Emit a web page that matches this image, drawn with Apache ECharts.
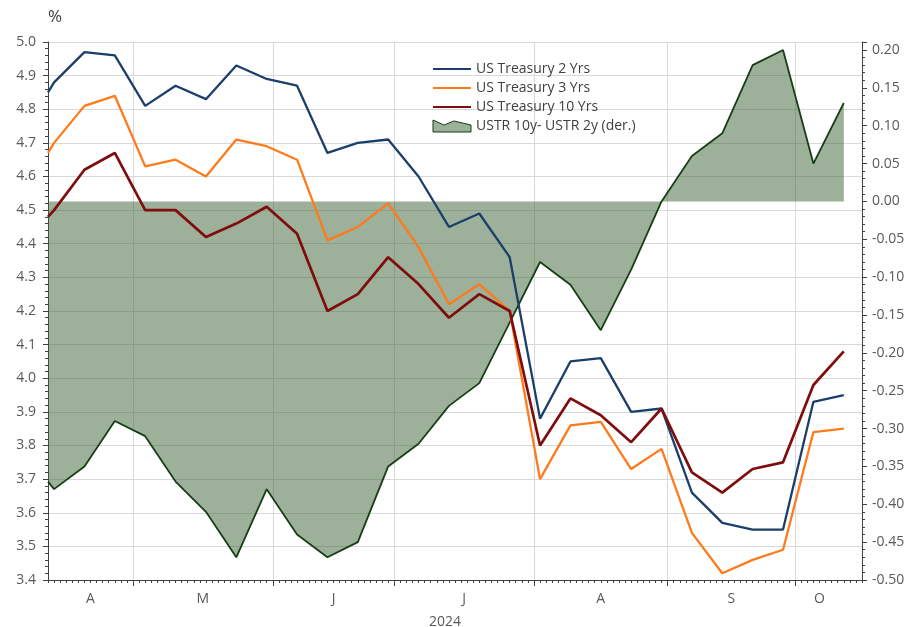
<!DOCTYPE html>
<html>
<head>
<meta charset="utf-8">
<script src="https://cdn.jsdelivr.net/npm/echarts@6/dist/echarts.min.js"></script>
<style>
  html, body { margin: 0; padding: 0; background: #fff; }
  #main { width: 907px; height: 627px; }
</style>
</head>
<body>
<div id="main"></div>
<script type="text/javascript">
    // weekly observation dates (first one is the partial start of the window)
    var obsDates = [
        '2024-04-11', '2024-04-12', '2024-04-19', '2024-04-26', '2024-05-03', '2024-05-10',
        '2024-05-17', '2024-05-24', '2024-05-31', '2024-06-07', '2024-06-14', '2024-06-21',
        '2024-06-28', '2024-07-05', '2024-07-12', '2024-07-19', '2024-07-26', '2024-08-02',
        '2024-08-09', '2024-08-16', '2024-08-23', '2024-08-30', '2024-09-06', '2024-09-13',
        '2024-09-20', '2024-09-27', '2024-10-04', '2024-10-11'
    ];
    var ust2y = [4.85, 4.88, 4.97, 4.96, 4.81, 4.87, 4.83, 4.93, 4.89, 4.87, 4.67, 4.70, 4.71, 4.60,
        4.45, 4.49, 4.36, 3.88, 4.05, 4.06, 3.90, 3.91, 3.66, 3.57, 3.55, 3.55, 3.93, 3.95];
    var ust3y = [4.67, 4.70, 4.81, 4.84, 4.63, 4.65, 4.60, 4.71, 4.69, 4.65, 4.41, 4.45, 4.52, 4.39,
        4.22, 4.28, 4.20, 3.70, 3.86, 3.87, 3.73, 3.79, 3.54, 3.42, 3.46, 3.49, 3.84, 3.85];
    var ust10y = [4.48, 4.50, 4.62, 4.67, 4.50, 4.50, 4.42, 4.46, 4.51, 4.43, 4.20, 4.25, 4.36, 4.28,
        4.18, 4.25, 4.20, 3.80, 3.94, 3.89, 3.81, 3.91, 3.72, 3.66, 3.73, 3.75, 3.98, 4.08];
    var spread = [-0.37, -0.38, -0.35, -0.29, -0.31, -0.37, -0.41, -0.47, -0.38, -0.44, -0.47, -0.45,
        -0.35, -0.32, -0.27, -0.24, -0.16, -0.08, -0.11, -0.17, -0.09, 0.00, 0.06, 0.09, 0.18, 0.20,
        0.05, 0.13];
    var monthLetters = ['J', 'F', 'M', 'A', 'M', 'J', 'J', 'A', 'S', 'O', 'N', 'D'];
    var axisStart = '2024-04-11', axisEnd = '2024-10-16';

    // business-day categories
    var days = [];
    var d = new Date(axisStart + 'T00:00:00Z');
    var end = new Date(axisEnd + 'T00:00:00Z');
    while (d <= end) {
        var wd = d.getUTCDay();
        if (wd != 0 && wd != 6) days.push(d.toISOString().slice(0, 10));
        d.setUTCDate(d.getUTCDate() + 1);
    }
    // month boundaries and label positions
    var monthStarts = [];
    for (var i = 1; i < days.length; i++) {
        if (days[i].slice(5, 7) != days[i - 1].slice(5, 7)) monthStarts.push(i);
    }
    var lastIdx = days.indexOf(obsDates[obsDates.length - 1]);
    var bounds = [0].concat(monthStarts).concat([lastIdx]);
    var monthMids = [], monthNames = [];
    for (var j = 0; j < bounds.length - 1; j++) {
        monthMids.push((bounds[j] + bounds[j + 1]) / 2);
        monthNames.push(monthLetters[parseInt(days[bounds[j]].slice(5, 7), 10) - 1]);
    }
    function pairs(vals) {
        return vals.map(function (v, k) { return [obsDates[k], v]; });
    }
    function isMonthStart(idx) { return monthStarts.indexOf(idx) >= 0; }

    var font = '"Open Sans", "Noto Sans", sans-serif';
    var labelColor = '#595959';
    var axisColor = '#404040';
    var gridColor = '#d9d9d9';
    var fillColor = 'rgba(58, 98, 54, 0.5)';
    var hideDot = { opacity: 0 };

    var myChart = echarts.init(document.getElementById('main'), null, { renderer: 'canvas' });
    var option = {
        animation: false,
        textStyle: { fontFamily: font },
        grid: { left: 48, right: 45, top: 42, bottom: 47, outerBoundsMode: 'none' },
        legend: {
            orient: 'vertical',
            left: 432,
            top: 62,
            padding: 0,
            itemWidth: 38,
            itemHeight: 14,
            itemGap: 5,
            textStyle: { fontSize: 14, color: axisColor, fontFamily: font },
            data: [
                { name: 'US Treasury 2 Yrs', itemStyle: hideDot },
                { name: 'US Treasury 3 Yrs', itemStyle: hideDot },
                { name: 'US Treasury 10 Yrs', itemStyle: hideDot },
                {
                    name: 'USTR 10y- USTR 2y (der.)',
                    icon: 'path://M0,0 L11,5 L21,1 L38,5 L38,12 L0,12 Z',
                    itemStyle: { color: fillColor, borderColor: '#173f14', borderWidth: 1 }
                }
            ]
        },
        xAxis: [
            {
                type: 'category',
                data: days,
                position: 'bottom',
                boundaryGap: false,
                axisLine: { onZero: false, lineStyle: { color: axisColor, width: 1 } },
                axisTick: { interval: 0, length: 3, lineStyle: { color: axisColor } },
                axisLabel: { show: false },
                splitLine: {
                    show: true,
                    interval: isMonthStart,
                    lineStyle: { color: gridColor }
                }
            },
            {
                type: 'category',
                data: days,
                position: 'bottom',
                boundaryGap: false,
                axisLine: { show: false, onZero: false },
                axisTick: {
                    interval: isMonthStart,
                    length: 6,
                    lineStyle: { color: axisColor }
                },
                axisLabel: { show: false },
                splitLine: { show: false }
            },
            {
                type: 'value',
                position: 'bottom',
                min: 0,
                max: days.length - 1,
                axisLine: { show: false, onZero: false },
                axisTick: { show: false },
                splitLine: { show: false },
                axisLabel: {
                    customValues: monthMids,
                    margin: 12,
                    fontSize: 14,
                    color: labelColor,
                    formatter: function (v) {
                        for (var k = 0; k < monthMids.length; k++) {
                            if (Math.abs(monthMids[k] - v) < 0.01) return monthNames[k];
                        }
                        return '';
                    }
                },
                name: '2024',
                nameLocation: 'middle',
                nameGap: 35,
                nameTextStyle: { fontSize: 14, color: labelColor, padding: [0, 20, 0, 0] }
            }
        ],
        yAxis: [
            {
                type: 'value',
                min: 3.4,
                max: 5.0,
                interval: 0.1,
                name: '%',
                nameLocation: 'end',
                nameGap: 16,
                nameTextStyle: { fontSize: 17, color: axisColor, padding: [0, 0, 0, 14] },
                axisLine: { show: true, lineStyle: { color: axisColor } },
                axisTick: { show: true, length: 5, lineStyle: { color: axisColor } },
                minorTick: { show: true, splitNumber: 5, length: 3, lineStyle: { color: axisColor } },
                axisLabel: {
                    fontSize: 14, color: labelColor, margin: 12,
                    formatter: function (v) { return v.toFixed(1); }
                },
                splitLine: { lineStyle: { color: gridColor } }
            },
            {
                type: 'value',
                min: -0.5,
                max: 0.2106,
                interval: 0.05,
                position: 'right',
                axisLine: { show: true, lineStyle: { color: axisColor } },
                axisTick: { show: true, length: 5, lineStyle: { color: axisColor } },
                minorTick: { show: true, splitNumber: 5, length: 3, lineStyle: { color: axisColor } },
                axisLabel: {
                    fontSize: 14, color: labelColor, margin: 10,
                    formatter: function (v) { return v > 0.2001 ? '' : v.toFixed(2); }
                },
                splitLine: { show: false }
            }
        ],
        series: [
            {
                name: 'USTR 10y- USTR 2y (der.)',
                type: 'line',
                xAxisIndex: 0,
                yAxisIndex: 1,
                data: pairs(spread),
                symbol: 'none',
                z: 1,
                lineStyle: { color: '#173f14', width: 1.8 },
                itemStyle: { color: '#173f14' },
                areaStyle: { color: fillColor, opacity: 1 }
            },
            {
                name: 'US Treasury 2 Yrs',
                type: 'line',
                xAxisIndex: 0,
                yAxisIndex: 0,
                data: pairs(ust2y),
                symbol: 'none',
                z: 3,
                lineStyle: { color: '#1b3f6b', width: 2.3 },
                itemStyle: { color: '#1b3f6b' }
            },
            {
                name: 'US Treasury 3 Yrs',
                type: 'line',
                xAxisIndex: 0,
                yAxisIndex: 0,
                data: pairs(ust3y),
                symbol: 'none',
                z: 3,
                lineStyle: { color: '#ff7a1a', width: 2.3 },
                itemStyle: { color: '#ff7a1a' }
            },
            {
                name: 'US Treasury 10 Yrs',
                type: 'line',
                xAxisIndex: 0,
                yAxisIndex: 0,
                data: pairs(ust10y),
                symbol: 'none',
                z: 3,
                lineStyle: { color: '#7f0d0d', width: 2.7 },
                itemStyle: { color: '#7f0d0d' }
            }
        ]
    };
    myChart.setOption(option);
</script>
</body>
</html>
